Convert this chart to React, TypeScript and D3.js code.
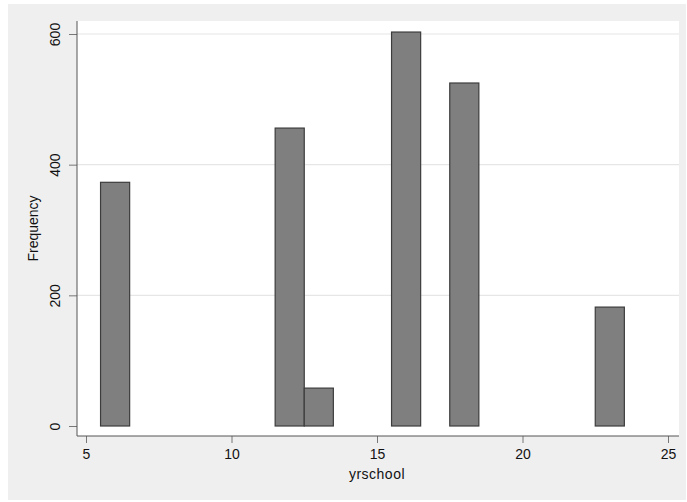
import React, { useEffect, useRef } from 'react';
import * as d3 from 'd3';

// histogram of yrschool, bin width 1
const years = [6, 12, 13, 16, 18, 23];
const freq = [373, 456, 58, 603, 525, 182];
const xTicks = [5, 10, 15, 20, 25];
const yTicks = [0, 200, 400, 600];

export default function App() {
  const ref = useRef<SVGSVGElement>(null);

  useEffect(() => {
    const w = 687;
    const h = 502;
    const plot = { left: 77, right: 679, top: 21, bottom: 436 };
    const font = '"Liberation Sans", Arial, sans-serif';

    const svg = d3.select(ref.current);
    svg.selectAll('*').remove();
    svg.attr('width', w).attr('height', h);

    svg.append('rect').attr('x', 8).attr('y', 4).attr('width', 678).attr('height', 496).attr('fill', '#efefef');
    svg.append('rect')
      .attr('x', plot.left).attr('y', plot.top)
      .attr('width', plot.right - plot.left).attr('height', plot.bottom - plot.top)
      .attr('fill', '#ffffff');

    const x = d3.scaleLinear().domain([5, 25]).range([86, 668]);
    const y = d3.scaleLinear().domain([0, 600]).range([426, 34]);

    // grid
    svg.append('g').selectAll('line')
      .data(yTicks.filter(d => d > 0))
      .join('line')
      .attr('x1', plot.left).attr('x2', plot.right)
      .attr('y1', d => y(d)).attr('y2', d => y(d))
      .attr('stroke', '#e6e6e6').attr('stroke-width', 1.2);

    const data = years.map((v, i) => ({ v, n: freq[i] }));
    svg.append('g').selectAll('rect')
      .data(data)
      .join('rect')
      .attr('x', d => x(d.v - 0.5))
      .attr('y', d => y(d.n))
      .attr('width', d => x(d.v + 0.5) - x(d.v - 0.5))
      .attr('height', d => y(0) - y(d.n))
      .attr('fill', '#7f7f7f')
      .attr('stroke', '#3c3c3c')
      .attr('stroke-width', 1.2);

    const yAxis = svg.append('g').attr('transform', `translate(${plot.left},0)`);
    yAxis.call(d3.axisLeft(y).tickValues(yTicks).tickSize(8).tickFormat(d3.format('d')));
    yAxis.select('.domain').remove();
    yAxis.append('line').attr('y1', plot.top).attr('y2', plot.bottom).attr('stroke', '#555');
    yAxis.selectAll('.tick line').attr('stroke', '#777');
    yAxis.selectAll('.tick text')
      .attr('x', null).attr('dy', null)
      .attr('transform', 'translate(-17,0) rotate(-90)')
      .attr('text-anchor', 'middle')
      .attr('fill', '#111')
      .style('font-family', font).style('font-size', '14px');

    const xAxis = svg.append('g').attr('transform', `translate(0,${plot.bottom})`);
    xAxis.call(d3.axisBottom(x).tickValues(xTicks).tickSize(7).tickFormat(d3.format('d')));
    xAxis.select('.domain').remove();
    xAxis.append('line').attr('x1', plot.left).attr('x2', plot.right).attr('stroke', '#555');
    xAxis.selectAll('.tick line').attr('stroke', '#777');
    xAxis.selectAll('.tick text')
      .attr('y', 23).attr('dy', null)
      .attr('fill', '#111')
      .style('font-family', font).style('font-size', '14px');

    svg.append('text')
      .attr('x', 377).attr('y', 479)
      .attr('text-anchor', 'middle')
      .style('font-family', font).style('font-size', '14px')
      .style('letter-spacing', '0.5px')
      .attr('fill', '#111')
      .text('yrschool');

    svg.append('text')
      .attr('transform', `translate(38,${(plot.top + plot.bottom) / 2}) rotate(-90)`)
      .attr('text-anchor', 'middle')
      .style('font-family', font).style('font-size', '14px')
      .attr('fill', '#111')
      .text('Frequency');
  }, []);

  return (
    <svg ref={ref} style={{ position: 'absolute', left: 0, top: 0 }} />
  );
}
